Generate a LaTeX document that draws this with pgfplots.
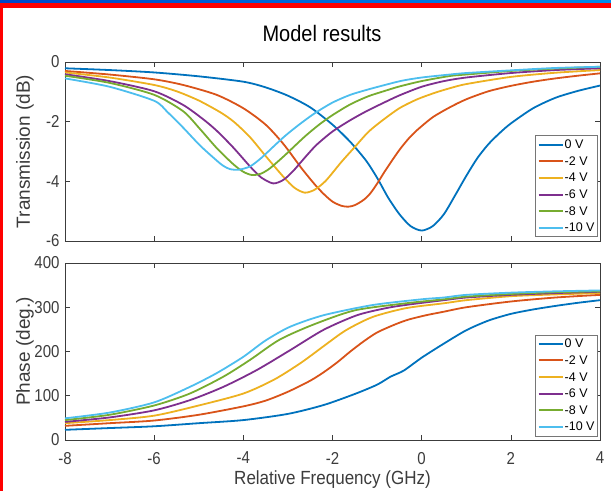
\documentclass[border=0pt]{standalone}
\usepackage{fontspec}
\setmainfont{Liberation Sans}
\usepackage{pgfplots}
\pgfplotsset{compat=1.18}
\definecolor{c1}{RGB}{0,114,189}
\definecolor{c2}{RGB}{217,83,25}
\definecolor{c3}{RGB}{237,177,32}
\definecolor{c4}{RGB}{126,47,142}
\definecolor{c5}{RGB}{119,172,48}
\definecolor{c6}{RGB}{77,190,238}
\definecolor{axgray}{RGB}{60,60,60}

\pgfplotsset{
  mpanel/.style={
    scale only axis, width=535pt, anchor=south west,
    xmin=-8, xmax=4, xtick={-8,-6,...,4},
    tick align=inside, tick pos=both,
    axis line style={axgray, line width=0.6pt},
    every tick/.style={axgray, line width=0.6pt}, major tick length=5pt,
    tick label style={font=\fontsize{15}{15}\selectfont, text=axgray, yscale=1.15},
    xticklabel style={yshift=-7pt},
    yticklabel style={xshift=-2pt},
    /pgf/number format/assume math mode=true,
    label style={font=\fontsize{17}{17}\selectfont, text=axgray},
    ylabel style={at={(axis description cs:-0.075,0.5)}, anchor=center, font=\fontsize{19}{19}\selectfont},
    every axis plot/.append style={line width=1.8pt, no markers, smooth, tension=0.45},
    cycle list={{c1},{c2},{c3},{c4},{c5},{c6}},
    legend style={at={(axis description cs:0.996,0.022)}, anchor=south east,
      font=\fontsize{12.5}{13}\selectfont, draw=axgray!70, line width=0.6pt,
      inner sep=2pt, row sep=2.6pt,
      nodes={inner sep=1pt, text height=10pt, text depth=2pt}},
    legend cell align=left,
    legend image code/.code={\draw[##1, line width=2pt] (0pt,0pt) -- (24pt,0pt);},
  }
}

\begin{document}
\begin{tikzpicture}[x=1pt,y=1pt]
\path[use as bounding box] (0,0) rectangle (611,491);
\fill[red] (0,0) rectangle (3,488);
\fill[red] (0,483) rectangle (611,488);
\shade[left color={rgb,255:red,0;green,70;blue,200}, right color={rgb,255:red,0;green,140;blue,235}] (0,488) rectangle (611,491);
\node[font=\fontsize{20}{20}\selectfont, yscale=1.12] at (322,458) {Model results};

\begin{axis}[mpanel, at={(65pt,250pt)}, height=179pt,
  ymin=-6, ymax=0, ytick={-6,-4,-2,0}, xticklabels={},
  ylabel={Transmission (dB)}]
\addplot coordinates {(-8,-0.21) (-7,-0.27) (-6,-0.35) (-5,-0.48) (-4,-0.66) (-3.5,-0.85) (-3,-1.13) (-2.5,-1.52) (-2,-2.1) (-1.6,-2.68) (-1.25,-3.3) (-1,-3.88) (-0.75,-4.55) (-0.5,-5.1) (-0.25,-5.5) (0,-5.65) (0.25,-5.5) (0.5,-5.1) (0.75,-4.47) (1,-3.82) (1.25,-3.22) (1.5,-2.75) (1.75,-2.38) (2,-2.06) (2.5,-1.55) (3,-1.2) (3.5,-0.97) (4,-0.79)};
\addlegendentry{0 V}
\addplot coordinates {(-8,-0.30) (-7,-0.42) (-6,-0.58) (-5.35,-0.77) (-4.6,-1.1) (-4,-1.55) (-3.5,-2.1) (-3.1,-2.75) (-2.7,-3.55) (-2.4,-4.1) (-2.2,-4.42) (-2,-4.68) (-1.8,-4.82) (-1.65,-4.85) (-1.5,-4.8) (-1.3,-4.62) (-1.15,-4.4) (-1,-4.08) (-0.85,-3.72) (-0.7,-3.38) (-0.5,-2.95) (-0.3,-2.58) (-0.1,-2.28) (0.25,-1.85) (0.63,-1.52) (1,-1.25) (1.5,-0.98) (2,-0.8) (2.5,-0.66) (3,-0.55) (3.5,-0.46) (4,-0.38)};
\addlegendentry{-2 V}
\addplot coordinates {(-8,-0.35) (-7,-0.52) (-6,-0.77) (-5.5,-0.98) (-5,-1.29) (-4.5,-1.7) (-4.2,-2.02) (-3.85,-2.52) (-3.5,-3.15) (-3.1,-3.85) (-2.85,-4.22) (-2.62,-4.38) (-2.4,-4.28) (-2.15,-3.98) (-1.8,-3.35) (-1.5,-2.85) (-1.2,-2.35) (-0.9,-1.98) (-0.5,-1.55) (-0.1,-1.25) (0.3,-1.03) (0.63,-0.88) (1,-0.74) (2,-0.5) (3,-0.36) (4,-0.27)};
\addlegendentry{-4 V}
\addplot coordinates {(-8,-0.41) (-7,-0.64) (-6,-0.98) (-5.35,-1.44) (-4.9,-1.92) (-4.6,-2.3) (-4.23,-2.86) (-3.85,-3.5) (-3.6,-3.87) (-3.33,-4.07) (-3.1,-3.95) (-2.88,-3.65) (-2.6,-3.17) (-2.36,-2.78) (-2,-2.33) (-1.6,-1.95) (-1.24,-1.65) (-0.9,-1.4) (-0.5,-1.12) (0,-0.83) (0.5,-0.64) (1,-0.52) (2,-0.37) (3,-0.27) (4,-0.21)};
\addlegendentry{-6 V}
\addplot coordinates {(-8,-0.46) (-7,-0.7) (-6,-1.1) (-5.35,-1.65) (-4.97,-2.25) (-4.6,-2.88) (-4.23,-3.42) (-4,-3.68) (-3.8,-3.79) (-3.6,-3.74) (-3.4,-3.56) (-3.1,-3.17) (-2.88,-2.86) (-2.6,-2.47) (-2.3,-2.1) (-2,-1.78) (-1.6,-1.42) (-1.2,-1.15) (-0.85,-0.98) (-0.5,-0.82) (0,-0.64) (0.63,-0.47) (1,-0.42) (2,-0.3) (3,-0.22) (4,-0.16)};
\addlegendentry{-8 V}
\addplot coordinates {(-8,-0.55) (-7,-0.83) (-6,-1.3) (-5.7,-1.68) (-5.35,-2.2) (-4.97,-2.8) (-4.6,-3.3) (-4.45,-3.48) (-4.3,-3.59) (-4.1,-3.61) (-3.85,-3.5) (-3.6,-3.22) (-3.3,-2.8) (-3.05,-2.46) (-2.75,-2.1) (-2.4,-1.72) (-2,-1.36) (-1.6,-1.1) (-1.2,-0.92) (-0.85,-0.78) (-0.45,-0.63) (0,-0.52) (0.63,-0.42) (1,-0.37) (2,-0.28) (3,-0.2) (4,-0.16)};
\addlegendentry{-10 V}
\end{axis}

\begin{axis}[mpanel, at={(65pt,51pt)}, height=177pt,
  ymin=0, ymax=400, ytick={0,100,...,400},
  xlabel={Relative Frequency (GHz)}, ylabel={Phase (deg.)},
  xlabel style={at={(axis description cs:0.5,-0.225)}, anchor=center, yscale=1.12}]
\addplot coordinates {(-8,23) (-7,27) (-6,31) (-5,38) (-4,45) (-3,59) (-2.2,79) (-1.5,104) (-1,125) (-0.7,143) (-0.4,157) (0,186) (0.5,218) (1,248) (1.5,270) (2,285) (2.5,295) (3,303) (3.5,310) (4,316)};
\addlegendentry{0 V}
\addplot coordinates {(-8,32) (-7,38) (-6,44) (-5,57) (-4,76) (-3.5,89) (-3,109) (-2.5,134) (-2.2,153) (-1.9,175) (-1.6,200) (-1.3,223) (-1,243) (-0.6,261) (-0.3,272) (0.1,282) (0.5,290) (1,300) (2,313) (3,322) (4,328)};
\addlegendentry{-2 V}
\addplot coordinates {(-8,38) (-7,45) (-6,55) (-5,78) (-4,105) (-3.3,137) (-2.7,175) (-2.2,212) (-1.7,248) (-1.1,278) (-0.35,298) (0.5,309) (1,316) (2,325) (3,329) (4,332)};
\addlegendentry{-4 V}
\addplot coordinates {(-8,41) (-7,51) (-6,67) (-5.2,90) (-4.45,120) (-3.7,158) (-2.95,203) (-2.2,249) (-1.45,282) (-0.8,298) (-0.3,306) (0.5,316) (1,322) (2,328) (3,332) (4,335)};
\addlegendentry{-6 V}
\addplot coordinates {(-8,45) (-7,57) (-6,78) (-5.2,105) (-4.45,143) (-3.85,181) (-3.2,226) (-2.45,260) (-1.5,293) (-0.35,309) (0.5,318) (1,324) (2,330) (3,334) (4,336)};
\addlegendentry{-8 V}
\addplot coordinates {(-8,49) (-7,62) (-6,85) (-5.2,120) (-4.6,151) (-4,188) (-3.5,225) (-2.95,256) (-2.2,282) (-1.1,305) (0,318) (0.5,322) (1,328) (2,333) (3,336) (4,338)};
\addlegendentry{-10 V}
\end{axis}
\end{tikzpicture}
\end{document}
